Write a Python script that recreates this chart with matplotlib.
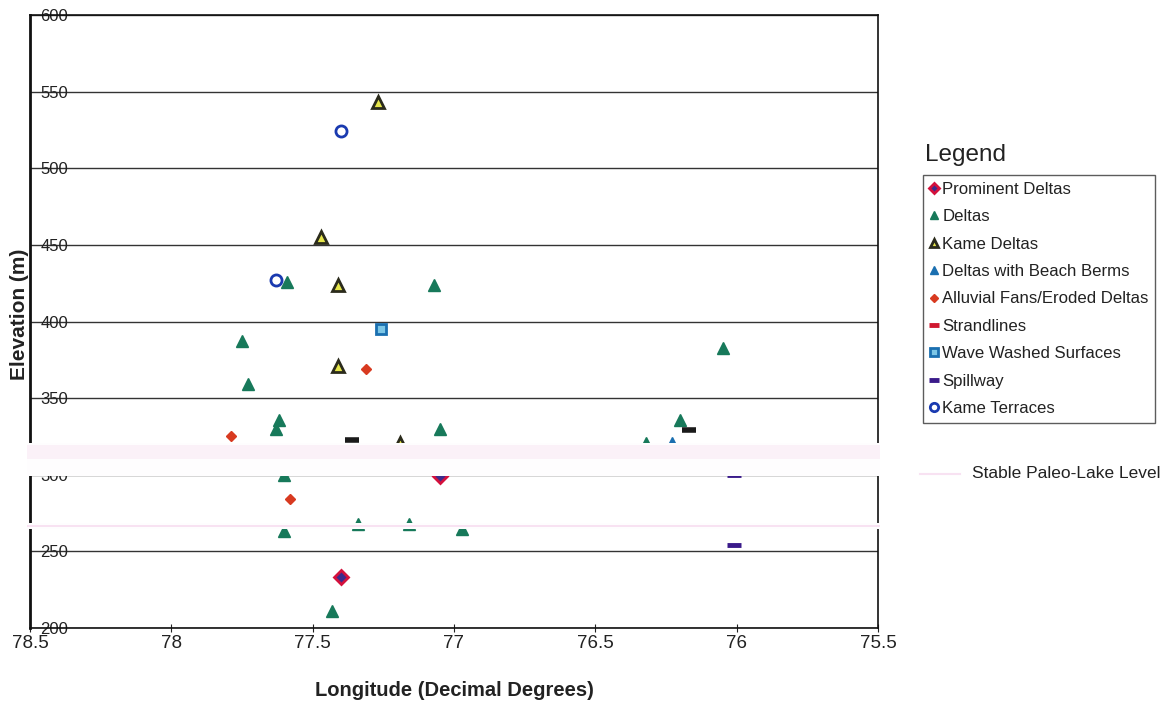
import matplotlib.pyplot as plt
import matplotlib.transforms as mtransforms
from matplotlib.patches import Rectangle
from matplotlib.lines import Line2D

plt.rcParams['font.family'] = ['Liberation Sans', 'DejaVu Sans']

# data (longitude in decimal degrees west, elevation in m)
prominent_lon = [77.40, 77.05]
prominent_elev = [233, 299]

deltas_lon = [77.59, 77.07, 77.75, 77.73, 77.62, 77.63, 77.05, 76.05, 76.20,
              76.32, 77.60, 77.60, 77.34, 77.16, 76.97, 77.43]
deltas_elev = [426, 424, 387, 359, 336, 330, 330, 383, 336,
               321, 300, 263, 268, 268, 264.3, 211]

kame_deltas_lon = [77.27, 77.47, 77.41, 77.41, 77.19]
kame_deltas_elev = [543, 455, 424, 371, 321]

berm_lon = [76.23]
berm_elev = [321]

alluvial_lon = [77.79, 77.31, 77.58]
alluvial_elev = [325, 369, 284]

strand_lon = []
strand_elev = []

wave_lon = [77.26]
wave_elev = [395]

spill_lon = [76.01, 76.01]
spill_elev = [300, 254]

terrace_lon = [77.40, 77.63]
terrace_elev = [524, 427]

other_lon = [77.36, 76.17]
other_elev = [323, 329]

# stable paleo-lake levels (bands)
lake_bands = [(299.5, 320.5), (264.5, 268.5)]

x_ticks = [78.5, 78, 77.5, 77, 76.5, 76, 75.5]
y_ticks = [200, 250, 300, 350, 400, 450, 500, 550, 600]

fig = plt.figure(figsize=(11.6, 7.06), dpi=100)
ax = fig.add_axes([30 / 1160, 1 - 628 / 706, 848 / 1160, 613 / 706])

# series
h_prom, = ax.plot(prominent_lon, prominent_elev, 'D', ms=7, mfc='#3b2b8c', mec='#d4103c', mew=2, ls='none')
h_delta, = ax.plot(deltas_lon, deltas_elev, '^', ms=8, color='#17795a', ls='none')
h_kame, = ax.plot(kame_deltas_lon, kame_deltas_elev, '^', ms=8, mfc='#e6e64a', mec='#2b2b1c', mew=2, ls='none')
h_berm, = ax.plot(berm_lon, berm_elev, '^', ms=8, color='#1a6fb0', ls='none')
h_all, = ax.plot(alluvial_lon, alluvial_elev, 'D', ms=5, color='#d83a20', ls='none')
h_str, = ax.plot(strand_lon, strand_elev, '_', ms=10, mew=3.5, color='#d01830', ls='none')
h_wave, = ax.plot(wave_lon, wave_elev, 's', ms=7, mfc='#7cc6e6', mec='#1a6fb0', mew=2, ls='none')
h_spill, = ax.plot(spill_lon, spill_elev, '_', ms=10, mew=3.5, color='#3a1a8a', ls='none')
h_ter, = ax.plot(terrace_lon, terrace_elev, 'o', ms=8, mfc='none', mec='#1a3ab0', mew=2, ls='none')
ax.plot(other_lon, other_elev, '_', ms=10, mew=4, color='#1a1a1a', ls='none')

ax.set_xlim(78.5, 75.5)
ax.set_ylim(200, 600)
ax.set_xticks(x_ticks)
ax.set_xticklabels([f'{v:g}' for v in x_ticks])
ax.set_yticks(y_ticks)
ax.set_yticklabels([str(v) for v in y_ticks])
ax.yaxis.grid(True, color='#333333', lw=1.0)
ax.set_axisbelow(True)
ax.tick_params(axis='x', direction='inout', length=6, labelsize=13.5, pad=2, colors='#222222')
ax.tick_params(axis='y', length=0, labelsize=12, pad=-7.5, colors='#222222')
for t in ax.get_yticklabels():
    t.set_horizontalalignment('left')
for s in ax.spines.values():
    s.set_color('#111111')
    s.set_linewidth(1.2)
ax.spines['left'].set_linewidth(2)

# lake level bands drawn over everything, like in the scan
trans = mtransforms.blended_transform_factory(ax.transAxes, ax.transData)
lo, hi = lake_bands[0]
fig.add_artist(Rectangle((-0.004, lo), 1.006, hi - lo, transform=trans,
                         facecolor='#fefdfe', edgecolor='none', zorder=5))
fig.add_artist(Rectangle((-0.004, hi - 10), 1.006, 9, transform=trans,
                         facecolor='#fbf1f8', edgecolor='none', zorder=6))
lo, hi = lake_bands[1]
fig.add_artist(Rectangle((-0.004, lo), 1.006, hi - lo, transform=trans,
                         facecolor='#fefdfe', edgecolor='none', zorder=5))
fig.add_artist(Rectangle((-0.004, lo + 1.2), 1.006, 1.4, transform=trans,
                         facecolor='#f8e2f2', edgecolor='none', zorder=6))

fig.text(454 / 1160, 1 - 690 / 706, 'Longitude (Decimal Degrees)', ha='center', va='center',
         fontsize=14.5, fontweight='bold', color='#222222')
fig.text(20 / 1160, 1 - 314 / 706, 'Elevation (m)', ha='center', va='center', rotation=90,
         fontsize=15, fontweight='bold', color='#222222')

# legend
fig.text(925 / 1160, 1 - 155 / 706, 'Legend', ha='left', va='center', fontsize=17.5, color='#222222')
handles = [h_prom, h_delta, h_kame, h_berm, h_all, h_str, h_wave, h_spill, h_ter]
labels = ['Prominent Deltas', 'Deltas', 'Kame Deltas', 'Deltas with Beach Berms',
          'Alluvial Fans/Eroded Deltas', 'Strandlines', 'Wave Washed Surfaces', 'Spillway',
          'Kame Terraces']
leg = fig.legend(handles, labels, loc='upper left', bbox_to_anchor=(923 / 1160, 1 - 175 / 706),
                 borderaxespad=0, fontsize=12.1, frameon=True, fancybox=False, edgecolor='#333333',
                 handlelength=0.45, handletextpad=0.3, labelspacing=0.74, borderpad=0.4,
                 markerscale=0.75)
leg.get_frame().set_linewidth(1.0)
for t in leg.get_texts():
    t.set_color('#222222')

fig.add_artist(Line2D([920 / 1160, 960 / 1160], [1 - 474 / 706, 1 - 474 / 706],
                      color='#f8e2f2', lw=1.5))
fig.text(972 / 1160, 1 - 474 / 706, 'Stable Paleo-Lake Level', ha='left', va='center',
         fontsize=12.5, color='#222222')

fig.savefig('out.png', dpi=100, facecolor='white')
